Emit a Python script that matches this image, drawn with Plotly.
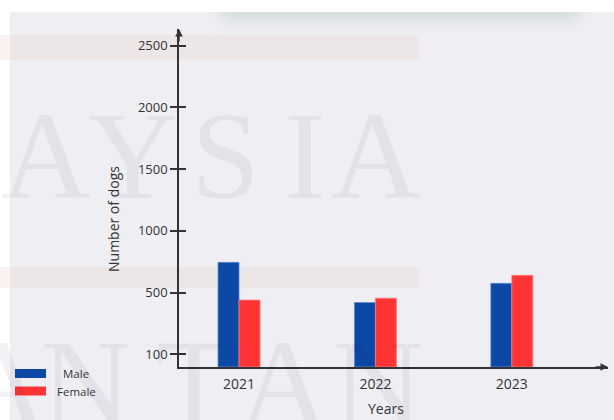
import base64
import plotly.graph_objects as go

# ---- data -------------------------------------------------------------
years = ["2021", "2022", "2023"]
male = [745, 420, 575]
female = [440, 455, 640]

y_tick_values = [0, 500, 1000, 1500, 2000, 2500]
y_tick_labels = ["100", "500", "1000", "1500", "2000", "2500"]

# ---- styling / geometry ----------------------------------------------
W, H = 614, 420
L, R, T, B = 179, 608, 29, 367          # plot-area edges in pixels
Y_MIN, Y_MAX = -102, 2634
X_RANGE = [-0.44, 2.705]

MALE_C = "#0c49a7"
FEMALE_C = "#ff3535"
INK = "#333333"
BG = "#efeff3"
FONT = "Open Sans"


def px(x):
    return (x - L) / (R - L)


def py(y):
    return (B - y) / (B - T)


fig = go.Figure()

fig.add_bar(
    x=years, y=[v - Y_MIN for v in male], base=Y_MIN, name="Male",
    customdata=male, hovertemplate="%{x}<br>Male: %{customdata}<extra></extra>",
    marker=dict(color=MALE_C, line=dict(color="#5b8bd2", width=0.8)),
    showlegend=False,
)
fig.add_bar(
    x=years, y=[v - Y_MIN for v in female], base=Y_MIN, name="Female",
    customdata=female, hovertemplate="%{x}<br>Female: %{customdata}<extra></extra>",
    marker=dict(color=FEMALE_C, line=dict(color="#ff7a7a", width=0.8)),
    showlegend=False,
)
# carrier for the inward half of the cross-shaped y ticks
fig.add_scatter(x=[], y=[], yaxis="y2", showlegend=False, hoverinfo="skip")

# ---- soft shadow of the card above the panel ---------------------------
shadow_svg = (
    '<svg xmlns="http://www.w3.org/2000/svg" width="440" height="60" viewBox="0 0 440 60">'
    '<defs><filter id="b" x="-20%" y="-200%" width="140%" height="500%">'
    '<feGaussianBlur stdDeviation="8"/></filter></defs>'
    '<rect x="38" y="-8" width="364" height="28" rx="14" fill="#d2dbdc" filter="url(#b)"/>'
    '</svg>'
)
shadow_src = "data:image/svg+xml;base64," + base64.b64encode(shadow_svg.encode()).decode()

images = [dict(
    source=shadow_src, xref="paper", yref="paper",
    x=px(180), y=py(0), sizex=440 / (R - L), sizey=60 / (B - T),
    xanchor="left", yanchor="top", sizing="stretch", layer="below",
)]

# ---- background shapes --------------------------------------------------
def rect(x0, y0, x1, y1, color, layer="below"):
    return dict(type="rect", xref="paper", yref="paper",
                x0=px(x0), x1=px(x1), y0=py(y1), y1=py(y0),
                fillcolor=color, line=dict(width=0), layer=layer)


shapes = [
    rect(0, 0, W, 12, "white"),
    rect(0, 0, 10, H, "white"),
    rect(0, 35, 419, 60, "rgba(235,210,198,0.28)"),
    rect(0, 267, 419, 288, "rgba(235,210,198,0.28)"),
    # legend swatches
    rect(15, 369, 46, 378, MALE_C, layer="above"),
    rect(15, 386.5, 46, 395.5, FEMALE_C, layer="above"),
]

# ---- annotations -------------------------------------------------------
annotations = []

# faint serif lettering behind the chart
WM = dict(family="Liberation Serif", size=124, color="rgba(20,20,60,0.055)")
for ch, cx in zip("AYSIA", [46, 133, 225, 304, 376]):
    annotations.append(dict(text=ch, x=px(cx), y=py(156), xref="paper", yref="paper",
                            xanchor="center", yanchor="middle", showarrow=False, font=WM))
for ch, cx in zip("ANTAN", [2, 86, 194, 284, 378]):
    annotations.append(dict(text=ch, x=px(cx), y=py(384), xref="paper", yref="paper",
                            xanchor="center", yanchor="middle", showarrow=False, font=WM))

# axis arrowheads
arrow = dict(xref="paper", yref="paper", text="", showarrow=True, arrowhead=2,
             arrowsize=1, arrowwidth=1.5, arrowcolor=INK, axref="pixel", ayref="pixel")
annotations.append(dict(arrow, x=1, y=0, ax=-14, ay=0))
annotations.append(dict(arrow, x=0, y=1, ax=0, ay=14))

# axis titles
annotations.append(dict(text="Number of dogs", x=px(113), y=py(219), xref="paper", yref="paper",
                        textangle=-90, showarrow=False, xanchor="center", yanchor="middle",
                        font=dict(family=FONT, size=14, color=INK)))
annotations.append(dict(text="Years", x=px(386), y=py(408), xref="paper", yref="paper",
                        showarrow=False, xanchor="center", yanchor="middle",
                        font=dict(family=FONT, size=14, color=INK)))

# legend labels
annotations.append(dict(text="Male", x=px(76), y=py(373.5), xref="paper", yref="paper",
                        showarrow=False, xanchor="center", yanchor="middle",
                        font=dict(family=FONT, size=11.5, color=INK)))
annotations.append(dict(text="Female", x=px(76), y=py(391.5), xref="paper", yref="paper",
                        showarrow=False, xanchor="center", yanchor="middle",
                        font=dict(family=FONT, size=11.5, color=INK)))

fig.update_layout(
    width=W, height=H,
    margin=dict(l=L, r=W - R, t=T, b=H - B, pad=0),
    paper_bgcolor=BG, plot_bgcolor="rgba(0,0,0,0)",
    barmode="group", bargap=0.692, bargroupgap=0,
    font=dict(family=FONT, color=INK),
    xaxis=dict(
        type="category", range=X_RANGE, showgrid=False, zeroline=False,
        showline=True, linecolor=INK, linewidth=1.5, ticks="",
        tickfont=dict(size=14, color=INK), ticklabelstandoff=3, fixedrange=True,
    ),
    yaxis=dict(
        range=[Y_MIN, Y_MAX], tickvals=y_tick_values, ticktext=y_tick_labels,
        showgrid=False, zeroline=False, showline=True, linecolor=INK, linewidth=1.5,
        ticks="outside", ticklen=7, tickwidth=1.5, tickcolor=INK,
        tickfont=dict(size=13, color=INK), fixedrange=True,
    ),
    yaxis2=dict(
        overlaying="y", side="left", anchor="x", range=[Y_MIN, Y_MAX],
        tickvals=y_tick_values, showticklabels=False, showgrid=False, zeroline=False,
        showline=False, ticks="inside", ticklen=7, tickwidth=1.5, tickcolor=INK,
        fixedrange=True,
    ),
    shapes=shapes, images=images, annotations=annotations,
    showlegend=False,
)

fig.write_html("out.html", config={"displayModeBar": False})
